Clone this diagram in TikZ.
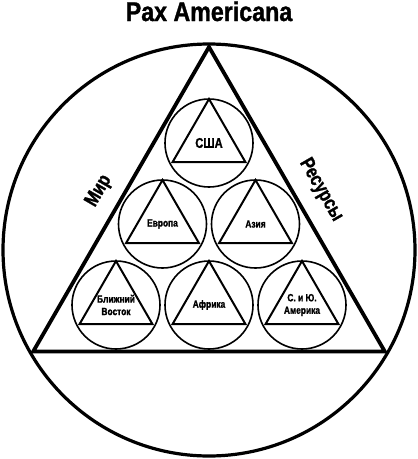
\documentclass[tikz,border=0pt]{standalone}
\usepackage{fontspec}
\newfontfamily\headfont[FakeStretch=0.86, BoldFeatures={FakeBold=1.2}]{Liberation Sans}
\newfontfamily\labelfont[FakeStretch=0.8, BoldFeatures={FakeBold=1.2}]{Liberation Sans}
\usetikzlibrary{shapes.geometric}
\tikzstyle{world}=[draw, circle, line width=3.2pt, minimum size=412pt, inner sep=0pt]
\tikzstyle{pyramid}=[draw, regular polygon, regular polygon sides=3, line width=3.8pt, minimum size=406pt, inner sep=0pt]
\tikzstyle{region}=[draw, circle, line width=1.6pt, minimum size=88pt, inner sep=0pt, align=center, font=\labelfont\bfseries\fontsize{10.5}{12.5}\selectfont]
\tikzstyle{region triangle}=[draw, regular polygon, regular polygon sides=3, line width=2pt, minimum size=84pt, inner sep=0pt]
\tikzstyle{side label}=[font=\labelfont\bfseries\fontsize{20}{20}\selectfont]

\begin{document}
\begin{tikzpicture}[x=1pt, y=-1pt]
      \useasboundingbox (0,0) rectangle (418,459);
      \node[anchor=base, font=\headfont\bfseries\fontsize{27}{27}\selectfont] (title) at (209, 21) {Pax Americana};
      \node[world] (world) at (209, 250) {};
      \node[pyramid] (pyramid) at (209, 250) {};
      % circles
      \node[region, font=\labelfont\bfseries\fontsize{14}{14}\selectfont] (usa) at (209, 143) {США};
      \node[region] (europe) at (162.5, 224) {Европа};
      \node[region] (asia) at (255.5, 224) {Азия};
      \node[region] (mideast) at (116, 305) {Ближний\\Восток};
      \node[region] (africa) at (209, 305) {Африка};
      \node[region] (america) at (302, 305) {С. и Ю.\\Америка};
      % triangles
      \foreach \r in {usa, europe, asia, mideast, africa, america}
        \node[region triangle] at ([yshift=2pt]\r.center) {};
      \node[side label, rotate=60] (peace) at (99, 191) {Мир};
      \node[side label, rotate=-60] (resources) at (321, 190) {Ресурсы};
    \end{tikzpicture}
\end{document}
